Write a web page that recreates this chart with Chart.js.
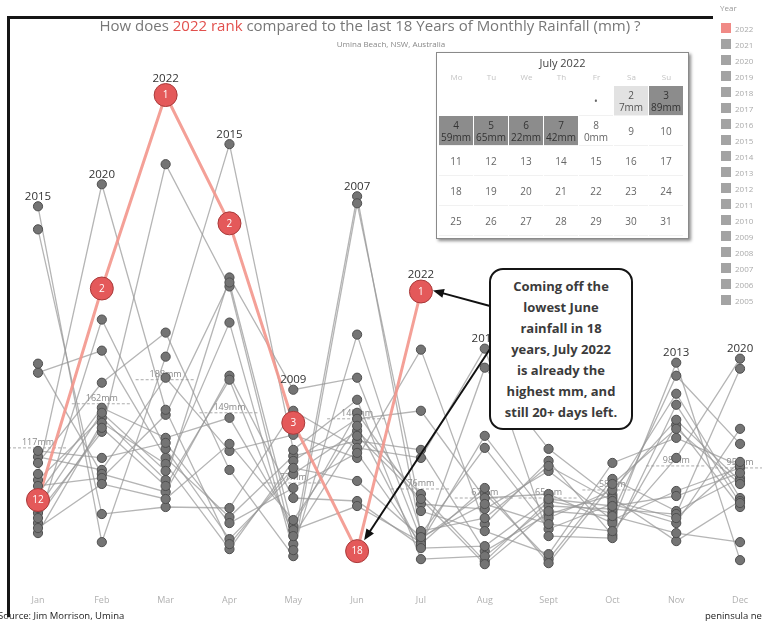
<!DOCTYPE html>
<html>
<head>
<meta charset="utf-8">
<script src="https://cdn.jsdelivr.net/npm/chart.js@4.4.1/dist/chart.umd.min.js"></script>
<style>
    body { margin: 0; background: #fff; font-family: "Open Sans", sans-serif; }
    #wrap { position: relative; width: 762px; height: 624px; overflow: hidden; background: #fff; }
    #frame { position: absolute; left: 7px; top: 16px; width: 703px; height: 598px; border-left: 3px solid #161616; border-top: 3px solid #161616; }
    canvas { position: absolute; left: 0; top: 0; }
    #title { position: absolute; left: 0; top: 15px; width: 740px; text-align: center; font-size: 15px; color: #777; }
    #title span { color: #e2504d; }
    #subtitle { position: absolute; left: 0; top: 38px; width: 782px; text-align: center; font-size: 8px; color: #888; }
    #legend { position: absolute; left: 718px; top: 0; width: 44px; font-size: 8px; color: #aaa; }
    #legend .hdr { position: absolute; left: 2px; top: 2px; font-size: 8px; color: #999; }
    #legend .item { position: absolute; left: 3px; height: 12px; line-height: 12px; white-space: nowrap; }
    #legend .sw { display: inline-block; width: 10px; height: 10px; vertical-align: -1px; margin-right: 4px; background: #a3a3a3; }
    #cal { position: absolute; left: 436px; top: 52px; width: 251px; height: 185px; background: #fff; border: 1px solid #8a8a8a; box-shadow: 2px 2px 3px rgba(0,0,0,0.45); }
    #cal .ttl { position: absolute; left: 0; top: 2px; width: 100%; text-align: center; font-size: 11px; color: #444; }
    #cal .dh { position: absolute; top: 18px; width: 35px; text-align: center; font-size: 8px; color: #c4c4c4; }
    #cal .cell { position: absolute; width: 34px; height: 29px; text-align: center; font-size: 10px; color: #666; line-height: 12px; display: flex; flex-direction: column; justify-content: center; border-bottom: 1px solid #f1f1f1; }
    #cal .dark { background: #8c8c8c; color: #333; }
    #cal .light { background: #e2e2e2; color: #555; }
    #callout { position: absolute; left: 489px; top: 268px; width: 140px; height: 152px; border: 2.5px solid #151515; border-radius: 14px; background: #fff; text-align: center; font-weight: 700; font-size: 13px; line-height: 21px; color: #3b3b3b; padding-top: 6px; box-sizing: content-box; }
    #source { position: absolute; left: -2px; top: 609px; font-size: 9.5px; color: #222; }
    #pn { position: absolute; left: 705px; top: 609px; font-size: 9.5px; color: #222; white-space: nowrap; }
</style>
</head>
<body>
<div id="wrap">
    <canvas id="chart" width="762" height="624"></canvas>
    <div id="frame"></div>
    <div id="title">How does <span>2022 rank</span> compared to the last 18 Years of Monthly Rainfall (mm) ?</div>
    <div id="subtitle">Umina Beach, NSW, Australia</div>
    <div id="legend"></div>
    <div id="cal"></div>
    <div id="callout">Coming off the<br>lowest June<br>rainfall in 18<br>years, July 2022<br>is already the<br>highest mm, and<br>still 20+ days left.</div>
    <div id="source">Source: Jim Morrison, Umina</div>
    <div id="pn">peninsula news</div>
</div>
<script>
// Months and years
const months = ['Jan', 'Feb', 'Mar', 'Apr', 'May', 'Jun', 'Jul', 'Aug', 'Sept', 'Oct', 'Nov', 'Dec'];
const years = [2005, 2006, 2007, 2008, 2009, 2010, 2011, 2012, 2013, 2014, 2015, 2016, 2017, 2018, 2019, 2020, 2021, 2022];

// Relative rainfall height per month (0-100), one value per year 2005..2022
const jan = [17.4, 41.6, 13.6, 24.8, 20.2, 11.6, 43.4, 23.6, 9.6, 19, 74.8, 70.2, 14.6, 26, 12.6, 21.4, 10.6, 16.2];
const feb = [34.6, 46, 29.8, 22.2, 32.6, 52.2, 21.4, 39.6, 31.6, 20.6, 7.8, 13.4, 33.6, 24.6, 30.6, 79.2, 19.4, 58.4];
const mar = [28.6, 24.6, 83.2, 40.6, 20.2, 26.4, 17.8, 49.6, 23.4, 33.2, 44.8, 14.8, 22, 27.6, 19, 34.2, 16.4, 97];
const apr = [32.6, 12.8, 58.8, 26, 60.6, 8.4, 41, 22.2, 6.4, 59.6, 87.2, 14.6, 51.6, 11.6, 40.2, 7.4, 27.4, 71.4];
const may = [11, 25, 7.4, 29.2, 38.2, 21.4, 16.6, 5, 24, 10.2, 26.2, 34, 6.2, 18.6, 9, 22.6, 12.2, 31.6];
const jun = [33.6, 28, 76.8, 24.6, 40.6, 30, 16, 75.4, 32.4, 15, 36.2, 26.6, 49.2, 25.6, 29, 20, 31, 6];
const jul = [15.4, 26.2, 9.4, 46.2, 8.4, 17.4, 7, 14, 34, 7.8, 4.4, 24.6, 10, 7.4, 16.4, 8.8, 6.6, 57.8];
const aug = [14.4, 6, 26.6, 11.4, 17.6, 4, 42.6, 10, 16.6, 29, 5, 46.4, 12.6, 18.6, 3.4, 15.4, 7, null];
const sep = [22, 13.4, 10.4, 24, 4.4, 16, 26.4, 5.4, 17.4, 12.6, 15, 9, 23, 3.6, 14, 11.4, 16.4, null];
const oct = [12.2, 17.2, 15.4, 9.2, 20.4, 13.6, 16.6, 23.6, 11.6, 18.2, 14.4, 8.6, 16, 19.4, 13, 10, 15, null];
const nov = [18, 37.4, 11.6, 31.2, 14, 41, 8, 28.6, 43.6, 32.2, 13.4, 35.2, 12.6, 30.4, 9.6, 24.6, 17, null];
const dec = [22.6, 16.6, 30.4, 14.8, 20.6, 27.4, 16, 23, 4.2, 20, 42.4, 15.6, 23.8, 19.4, 7.8, 44.4, 21.6, null];

// 2022 rank each month (out of 18)
const rank2022 = [12, 2, 1, 2, 3, 18, 1];

// Monthly average (mm) and where its reference line sits
const avgMm = [117, 162, 188, 149, 77, 148, 76, 67, 65, 58, 98, 95];
const avgPos = [26.6, 35.4, 40.2, 33.6, 19.6, 32.4, 18.4, 16.6, 16.6, 18.2, 23, 22.6];

// Year labels above the wettest point
const labelMonth = [0, 1, 2, 3, 4, 5, 6, 7, 10, 11];
const labelYear = [2015, 2020, 2022, 2015, 2009, 2007, 2022, 2016, 2013, 2020];

// July 2022 calendar
const julyDays = [2, 3, 4, 5, 6, 7, 8];
const julyMm = [7, 89, 59, 65, 22, 42, 0];

const byMonth = [jan, feb, mar, apr, may, jun, jul, aug, sep, oct, nov, dec];

// Datasets: lines first, points on top, 2022 highest
const datasets = [];
const pointIndex = {};
const ordered = years.slice().reverse();
ordered.forEach(function(yr) {
    const k = years.indexOf(yr);
    const vals = byMonth.map(m => m[k]);
    const is22 = yr === 2022;
    pointIndex[yr] = datasets.length;
    datasets.push({
        label: String(yr),
        data: vals,
        showLine: false,
        pointRadius: is22 ? 11.5 : 4.6,
        pointBackgroundColor: is22 ? '#e4595a' : '#747474',
        pointBorderColor: is22 ? '#a83a3a' : '#4f4f4f',
        pointBorderWidth: 1,
        order: is22 ? 0 : 1
    });
    datasets.push({
        label: String(yr) + ' line',
        data: vals,
        borderColor: is22 ? 'rgba(243,150,140,0.9)' : 'rgba(150,150,150,0.7)',
        borderWidth: is22 ? 3 : 1.3,
        pointRadius: 0,
        tension: 0,
        spanGaps: false,
        order: is22 ? 2 : 3
    });
});

function arrow(ctx, x1, y1, x2, y2) {
    const a = Math.atan2(y2 - y1, x2 - x1);
    ctx.save();
    ctx.strokeStyle = '#111';
    ctx.fillStyle = '#111';
    ctx.lineWidth = 2;
    ctx.beginPath();
    ctx.moveTo(x1, y1);
    ctx.lineTo(x2 - 8 * Math.cos(a), y2 - 8 * Math.sin(a));
    ctx.stroke();
    ctx.beginPath();
    ctx.moveTo(x2, y2);
    ctx.lineTo(x2 - 11 * Math.cos(a) + 4.5 * Math.sin(a), y2 - 11 * Math.sin(a) - 4.5 * Math.cos(a));
    ctx.lineTo(x2 - 11 * Math.cos(a) - 4.5 * Math.sin(a), y2 - 11 * Math.sin(a) + 4.5 * Math.cos(a));
    ctx.closePath();
    ctx.fill();
    ctx.restore();
}

const overlay = {
    id: 'overlay',
    beforeDatasetsDraw(chart) {
        const ctx = chart.ctx;
        const xs = chart.scales.x, ys = chart.scales.y;
        ctx.save();
        avgMm.forEach(function(mm, i) {
            const x = xs.getPixelForValue(i);
            const y = ys.getPixelForValue(avgPos[i]);
            ctx.strokeStyle = 'rgba(150,150,150,0.8)';
            ctx.lineWidth = 1;
            ctx.setLineDash([3, 2]);
            ctx.beginPath();
            ctx.moveTo(x - 30, y);
            ctx.lineTo(x + 30, y);
            ctx.stroke();
            ctx.setLineDash([]);
            ctx.fillStyle = '#8a8a8a';
            ctx.font = '9px "Open Sans"';
            ctx.textAlign = 'center';
            ctx.textBaseline = 'bottom';
            ctx.fillText(mm + 'mm', x, y - 1);
        });
        ctx.restore();
    },
    afterDatasetsDraw(chart) {
        const ctx = chart.ctx;
        ctx.save();
        // rank numbers inside the 2022 points
        const red = chart.getDatasetMeta(pointIndex[2022]).data;
        ctx.fillStyle = '#fff';
        ctx.font = '10px "Open Sans"';
        ctx.textAlign = 'center';
        ctx.textBaseline = 'middle';
        rank2022.forEach(function(r, i) {
            ctx.fillText(String(r), red[i].x, red[i].y + 0.5);
        });
        // year labels above peaks
        ctx.fillStyle = '#333';
        ctx.font = '11.5px "Open Sans"';
        ctx.textBaseline = 'alphabetic';
        labelMonth.forEach(function(m, i) {
            const yr = labelYear[i];
            const el = chart.getDatasetMeta(pointIndex[yr]).data[m];
            const r = yr === 2022 ? 11.5 : 4.6;
            ctx.fillText(String(yr), el.x, el.y - r - 2);
        });
        // arrows from the note to July and June 2022
        arrow(ctx, 490, 306, red[6].x + 12, red[6].y - 1);
        arrow(ctx, 490, 349, red[5].x + 7, red[5].y - 11);
        ctx.restore();
    }
};

new Chart(document.getElementById('chart'), {
    type: 'line',
    data: { labels: months, datasets: datasets },
    options: {
        responsive: false,
        animation: false,
        layout: { padding: { left: 38, right: 15, top: 80, bottom: 4 } },
        plugins: { legend: { display: false }, tooltip: { enabled: false } },
        scales: {
            x: {
                offset: false,
                grid: { display: false, drawTicks: false },
                border: { display: false },
                ticks: { color: '#b0b0b0', font: { size: 9, family: 'Open Sans' }, padding: 14, autoSkip: false, maxRotation: 0 }
            },
            y: { display: false, min: 0, max: 100 }
        }
    },
    plugins: [overlay]
});

// Legend
const legend = document.getElementById('legend');
legend.innerHTML = '<div class="hdr">Year</div>';
ordered.forEach(function(yr, i) {
    const d = document.createElement('div');
    d.className = 'item';
    d.style.top = (23 + i * 16) + 'px';
    d.innerHTML = '<span class="sw" style="background:' + (yr === 2022 ? '#f08a86' : '#a3a3a3') + '"></span>' + yr;
    legend.appendChild(d);
});

// Calendar
const cal = document.getElementById('cal');
const dayNames = ['Mo', 'Tu', 'We', 'Th', 'Fr', 'Sa', 'Su'];
let html = '<div class="ttl">July 2022</div>';
dayNames.forEach(function(d, i) {
    html += '<div class="dh" style="left:' + (2 + i * 35) + 'px">' + d + '</div>';
});
html += '<div class="cell" style="left:142px;top:33px">•</div>';
for (let day = 2; day <= 31; day++) {
    const pos = day + 3;          // July 1 is a Friday
    const col = pos % 7, row = Math.floor(pos / 7);
    const k = julyDays.indexOf(day);
    let cls = 'cell', txt = String(day);
    if (k >= 0) {
        txt += '<br>' + julyMm[k] + 'mm';
        if (julyMm[k] >= 20) cls += ' dark';
        else if (julyMm[k] > 0) cls += ' light';
    }
    html += '<div class="' + cls + '" style="left:' + (2 + col * 35) + 'px;top:' + (33 + row * 30) + 'px">' + txt + '</div>';
}
cal.innerHTML = html;
</script>
</body>
</html>
